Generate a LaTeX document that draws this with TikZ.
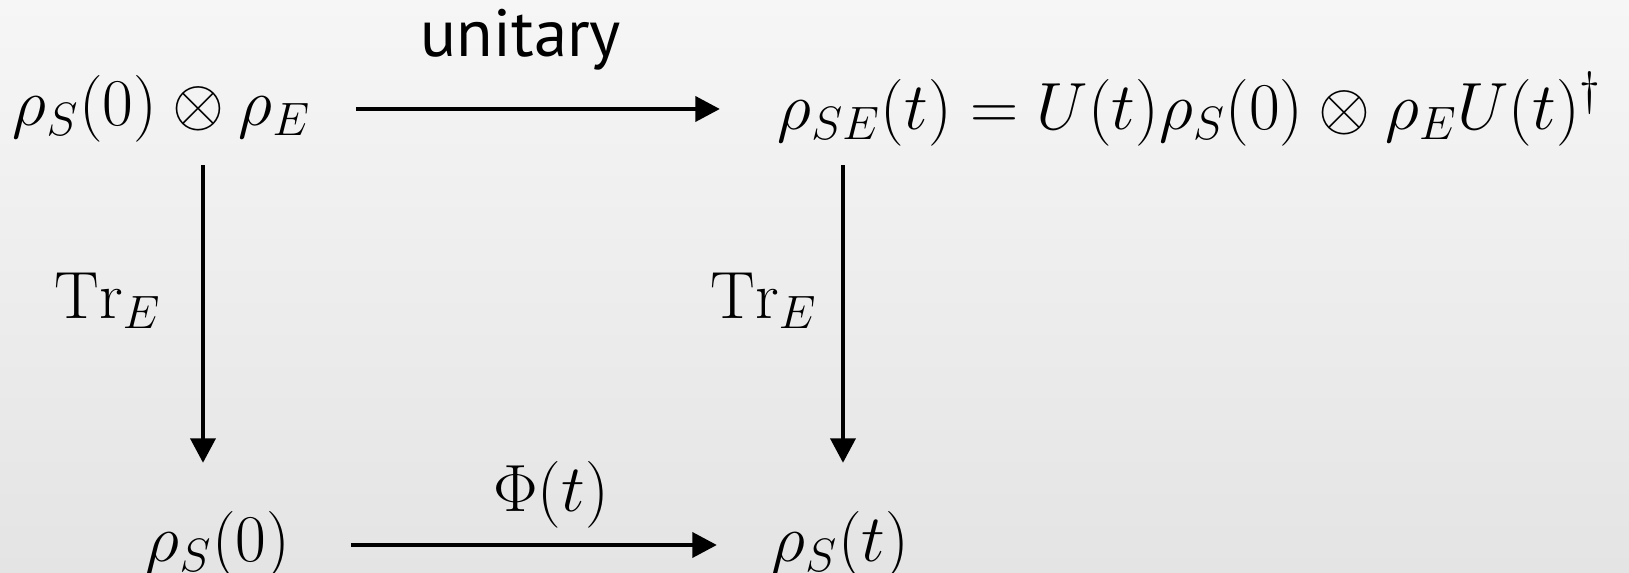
\RequirePackage{fix-cm}
\documentclass[tikz,border=0pt]{standalone}
\usepackage{amsmath,amssymb}
\usepackage{fontspec}
\newfontfamily\labelfont{PT Sans}
\usepackage{tikz}
\usetikzlibrary{arrows.meta,positioning,calc}
\definecolor{bgtop}{RGB}{246,246,246}
\definecolor{bgbottom}{RGB}{228,228,228}

\begin{document}
\begin{tikzpicture}[
    x=0.01cm, y=-0.01cm,
    state/.style={inner sep=0pt, font=\fontsize{19}{23}\selectfont},
    arrow/.style={-{Triangle[length=7pt, width=7pt]}, line width=1.4pt},
    tag/.style={inner sep=0pt, font=\fontsize{19}{23}\selectfont}
]
    % Background
    \shade[top color=bgtop, bottom color=bgbottom] (0,0) rectangle (1629,573);
    \useasboundingbox (0,0) rectangle (1629,573);

    % States
    \node[state] (joint0) at (162,109) {$\rho_S(0)\otimes\rho_E$};
    \node[state, anchor=west] (jointt) at (777,109) {$\rho_{SE}(t) = U(t)\rho_S(0)\otimes\rho_E U(t)^\dagger$};
    \node[state] (sys0) at (218,545) {$\rho_S(0)$};
    \node[state, anchor=west] (syst) at (771,545) {$\rho_S(t)$};
    \coordinate (lcol) at (203,0);
    \coordinate (rcol) at (843,0);

    % Maps
    \draw[arrow] ([xshift=0.44cm]joint0.east) -- ([xshift=-0.57cm]jointt.west);
    \draw[arrow] ([yshift=-0.22cm]joint0.south -| lcol) -- ([yshift=0.48cm]sys0.north -| lcol);
    \draw[arrow] ([yshift=-0.22cm]joint0.south -| rcol) -- ([yshift=0.48cm]sys0.north -| rcol);
    \draw[arrow] ([xshift=0.60cm]sys0.east) -- ([xshift=-0.54cm]syst.west);

    % Labels
    \node[tag, font=\labelfont\fontsize{19}{23}\selectfont] (unitary) at (521,40) {unitary};
    \node[tag] (phi) at (551,495) {$\Phi(t)$};
    \node[tag] (trleft) at (108,301) {$\mathrm{Tr}_E$};
    \node[tag] (trright) at (764,301) {$\mathrm{Tr}_E$};
\end{tikzpicture}
\end{document}
